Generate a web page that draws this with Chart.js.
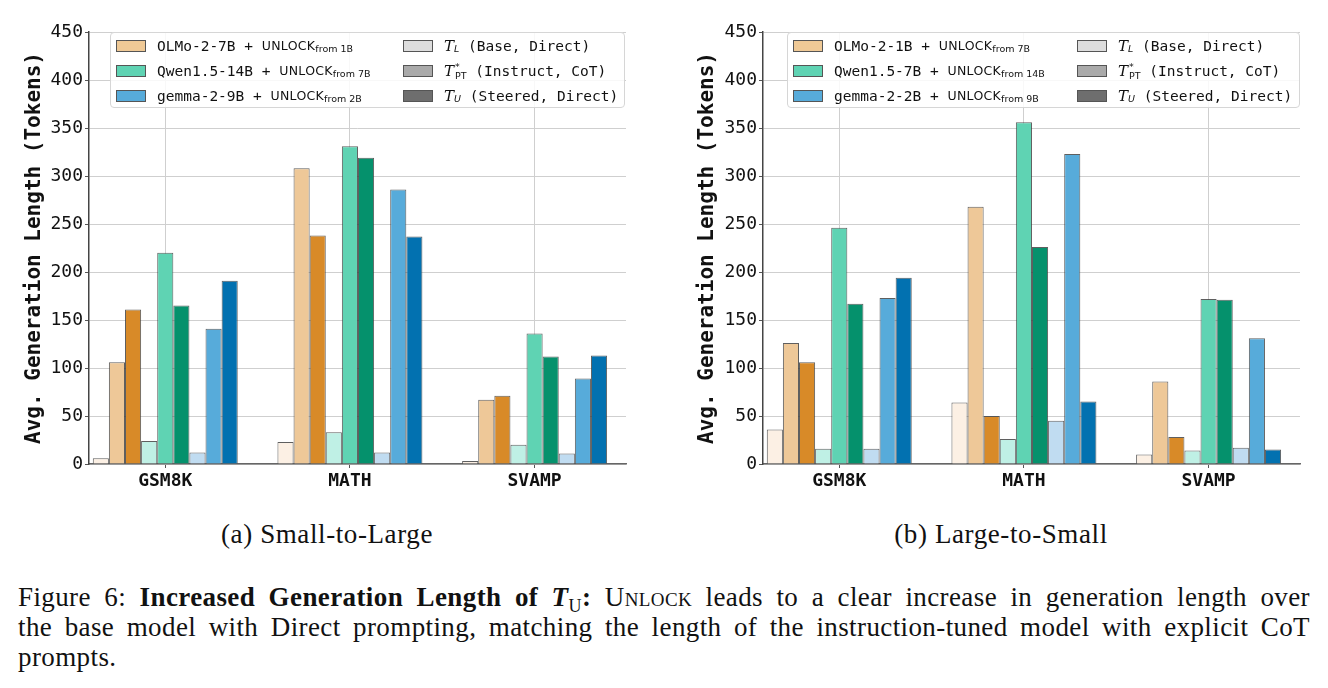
<!DOCTYPE html>
<html><head><meta charset="utf-8">
<script src="https://cdn.jsdelivr.net/npm/chart.js@4.4.1/dist/chart.umd.min.js"></script>
<style>
html,body{margin:0;padding:0;background:#fff;}
#wrap{position:relative;width:1328px;height:688px;overflow:hidden;background:#fff;}
canvas{position:absolute;top:0;}
#c1{left:0px;} #c2{left:664px;}
.lg{position:absolute;box-sizing:border-box;border:1px solid #d6d6d6;border-radius:4px;background:rgba(255,255,255,0.85);}
.it{position:absolute;height:25px;display:flex;align-items:center;white-space:nowrap;color:#111;}
.sw{display:inline-block;width:28px;height:10px;border:1px solid #555;margin-right:11px;flex:none;}
.mono{font-family:'DejaVu Sans Mono',monospace;font-size:14.5px;white-space:pre;}
.sc{font-family:'DejaVu Sans',sans-serif;font-size:12.5px;letter-spacing:0.3px;}
.sub{font-family:'DejaVu Sans',sans-serif;font-size:9.5px;position:relative;top:3px;}
.tt{font-family:'DejaVu Serif',serif;font-style:italic;font-size:15px;}
.ts{font-family:'DejaVu Sans',sans-serif;font-size:9.5px;display:inline-flex;flex-direction:column;line-height:9px;vertical-align:middle;margin-left:1px;}
.cap{position:absolute;font-family:'Liberation Serif',serif;color:#111;white-space:nowrap;}
.sub1{font-size:27px;letter-spacing:0.6px;top:519px;transform:translateX(-50%);}
.line{left:18px;width:1292px;font-size:27px;letter-spacing:0.4px;text-align:justify;text-align-last:justify;height:30px;line-height:30px;}
</style></head>
<body><div id="wrap">
<canvas id="c1" width="664" height="500"></canvas>
<canvas id="c2" width="664" height="500"></canvas>
<div id="lg1" class="lg"></div>
<div id="lg2" class="lg"></div>
<div class="cap sub1" style="left:327px">(a) Small-to-Large</div>
<div class="cap sub1" style="left:1001px">(b) Large-to-Small</div>
<div class="cap line" style="top:582px">Figure 6: <b>Increased Generation Length of <i>T</i><sub style="font-size:18px;font-style:normal;font-weight:normal;vertical-align:-6px;line-height:0">U</sub>:</b> <span style="font-variant:small-caps">Unlock</span> leads to a clear increase in generation length over</div>
<div class="cap line" style="top:612px">the base model with Direct prompting, matching the length of the instruction-tuned model with explicit CoT</div>
<div class="cap" style="left:18px;top:642px;font-size:27px;letter-spacing:0.4px;line-height:30px;">prompts.</div>
</div>
<script>
// ---------------- data ----------------
const categories = ['GSM8K', 'MATH', 'SVAMP'];
const yTickValues = [0, 50, 100, 150, 200, 250, 300, 350, 400, 450];
const yTitle = 'Avg. Generation Length (Tokens)';

// (a) Small-to-Large
const s2lOlmoBase     = [6, 23, 3];
const s2lOlmoInstruct = [106, 308, 67];
const s2lOlmoUnlock   = [161, 238, 71];
const s2lQwenBase     = [24, 33, 20];
const s2lQwenInstruct = [220, 331, 136];
const s2lQwenUnlock   = [165, 319, 112];
const s2lGemmaBase    = [12, 12, 11];
const s2lGemmaInstruct= [141, 286, 89];
const s2lGemmaUnlock  = [191, 237, 113];

// (b) Large-to-Small
const l2sOlmoBase     = [36, 64, 10];
const l2sOlmoInstruct = [126, 268, 86];
const l2sOlmoUnlock   = [106, 50, 28];
const l2sQwenBase     = [16, 26, 14];
const l2sQwenInstruct = [246, 356, 172];
const l2sQwenUnlock   = [167, 226, 171];
const l2sGemmaBase    = [16, 45, 17];
const l2sGemmaInstruct= [173, 323, 131];
const l2sGemmaUnlock  = [194, 65, 15];

// legend texts
const s2lModels = [['OLMo-2-7B', 'from 1B'], ['Qwen1.5-14B', 'from 7B'], ['gemma-2-9B', 'from 2B']];
const l2sModels = [['OLMo-2-1B', 'from 7B'], ['Qwen1.5-7B', 'from 14B'], ['gemma-2-2B', 'from 9B']];
const typeLabels = ['(Base, Direct)', '(Instruct, CoT)', '(Steered, Direct)'];

// ---------------- styles ----------------
const fills = [
  '#fcf0e4', '#eec898', '#d88a28',
  '#bff0e5', '#5fd3b3', '#05916c',
  '#c0dcf1', '#57abda', '#0271b0'
];
const modelSwatch = ['#efc996', '#5fd3b3', '#57abda'];
const typeSwatch = ['#dddddd', '#aaaaaa', '#6e6e6e'];

function buildDatasets(series) {
  return series.map((vals, k) => ({
    data: vals.map((v, i) => ({x: i, y: v})),
    backgroundColor: fills[k],
    borderColor: 'rgba(55,55,55,0.8)',
    borderWidth: 1,
    categoryPercentage: 0.785,
    barPercentage: 1.0
  }));
}

function legendHTML(models, col2) {
  let h = '';
  models.forEach((m, r) => {
    h += `<div class="it" style="left:5px;top:${r*25}px"><span class="sw" style="background:${modelSwatch[r]}"></span>` +
         `<span class="mono">${m[0]} + </span><span class="sc">UNLOCK</span><span class="sub">${m[1]}</span></div>`;
  });
  const tsub = ['<span class="sub" style="top:3px;font-style:italic">L</span>',
                '<span class="ts"><span>*</span><span>PT</span></span>',
                '<span class="sub" style="top:3px;font-style:italic">U</span>'];
  typeLabels.forEach((t, r) => {
    h += `<div class="it" style="left:${col2}px;top:${r*25}px"><span class="sw" style="background:${typeSwatch[r]}"></span>` +
         `<span class="tt">T</span>${tsub[r]}<span class="mono"> ${t}</span></div>`;
  });
  return h;
}

function makeChart(id, series, cfg) {
  const legendPos = {
    id: 'legendPos',
    afterLayout(chart) {
      const el = document.getElementById(cfg.legendId);
      const ca = chart.chartArea;
      const off = chart.canvas.offsetLeft;
      el.style.left = (off + ca.left + cfg.lgDx) + 'px';
      el.style.top = (ca.top) + 'px';
      el.style.width = cfg.lgW + 'px';
      el.style.height = '76px';
    }
  };
  return new Chart(document.getElementById(id), {
    type: 'bar',
    data: {datasets: buildDatasets(series)},
    plugins: [legendPos],
    options: {
      responsive: false, animation: false, devicePixelRatio: 1, events: [],
      layout: {padding: {left: 0, right: cfg.padRight, top: 32, bottom: 0}},
      plugins: {legend: {display: false}, tooltip: {enabled: false}},
      scales: {
        x: {
          type: 'linear', min: -0.413, max: 2.495, offset: false,
          afterBuildTicks: s => { s.ticks = categories.map((c, i) => ({value: i})); },
          ticks: {
            callback: v => categories[v],
            font: {family: 'DejaVu Sans Mono', weight: 'bold', size: 18},
            color: '#111', padding: 3, maxRotation: 0, autoSkip: false
          },
          grid: {color: '#cfcfcf', lineWidth: 1, offset: false, tickLength: 4, tickColor: '#555'},
          border: {display: true, color: '#666', width: 1.5},
          afterFit: s => { s.height = 36; }
        },
        y: {
          min: 0, max: 450,
          afterBuildTicks: s => { s.ticks = yTickValues.map(v => ({value: v})); },
          ticks: {font: {family: 'DejaVu Sans Mono', size: 18}, color: '#111', padding: 2},
          grid: {color: '#cfcfcf', lineWidth: 1, tickLength: 4, tickColor: '#555'},
          border: {display: true, color: '#444', width: 1.5},
          title: {
            display: true, text: yTitle, color: '#111',
            font: {family: 'DejaVu Sans Mono', weight: 'bold', size: 21},
            padding: {top: cfg.titlePad, bottom: 0}
          },
          afterFit: s => { s.width = cfg.yWidth; }
        }
      }
    }
  });
}

document.getElementById('lg1').innerHTML = legendHTML(s2lModels, 292);
document.getElementById('lg2').innerHTML = legendHTML(l2sModels, 289);

makeChart('c1', [s2lOlmoBase, s2lOlmoInstruct, s2lOlmoUnlock, s2lQwenBase, s2lQwenInstruct, s2lQwenUnlock, s2lGemmaBase, s2lGemmaInstruct, s2lGemmaUnlock],
  {yWidth: 89, padRight: 38, titlePad: 22, legendId: 'lg1', lgDx: 21, lgW: 515});
makeChart('c2', [l2sOlmoBase, l2sOlmoInstruct, l2sOlmoUnlock, l2sQwenBase, l2sQwenInstruct, l2sQwenUnlock, l2sGemmaBase, l2sGemmaInstruct, l2sGemmaUnlock],
  {yWidth: 99, padRight: 28, titlePad: 31, legendId: 'lg2', lgDx: 24, lgW: 513});
</script>
</body></html>
